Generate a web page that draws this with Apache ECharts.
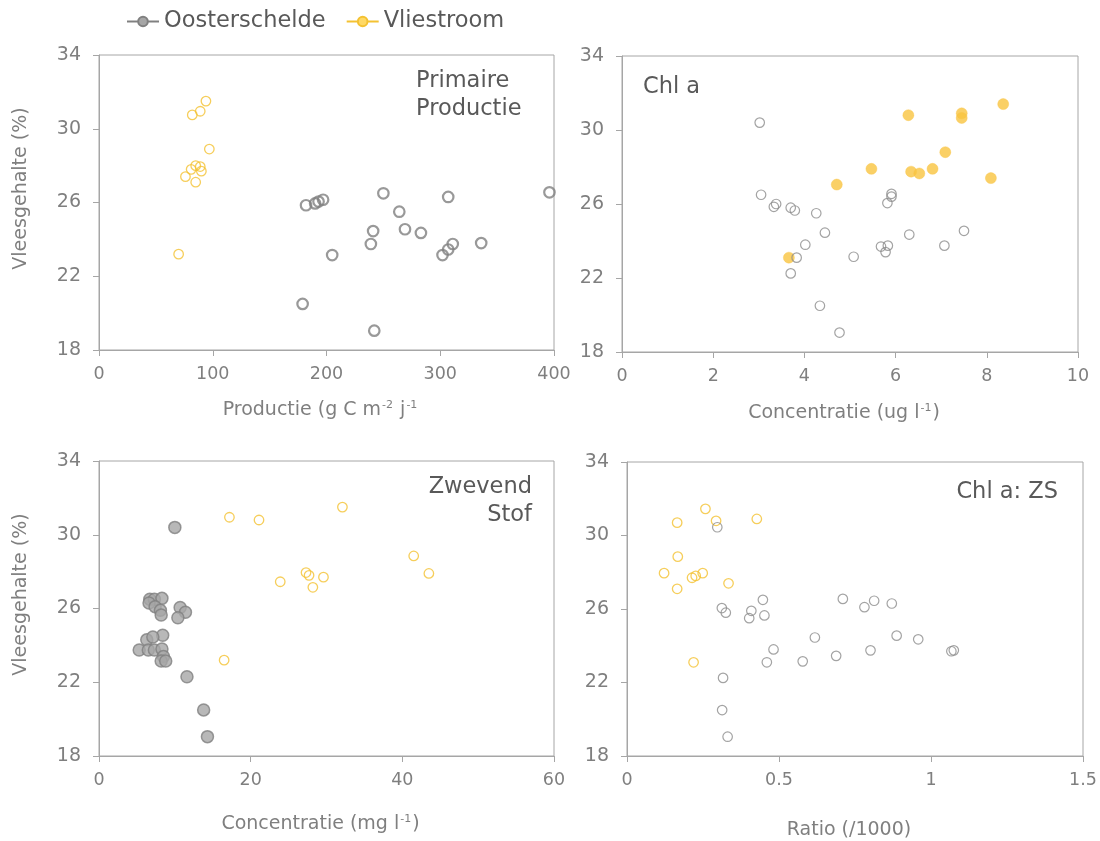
<!DOCTYPE html>
<html>
<head>
<meta charset="utf-8">
<script src="https://cdn.jsdelivr.net/npm/echarts@6/dist/echarts.min.js"></script>
<style>
  html, body { margin: 0; padding: 0; background: #fff; }
  #chart { width: 1100px; height: 841px; }
</style>
</head>
<body>
<div id="chart"></div>
<script>
// Vleesgehalte (%) tegen vier verklarende grootheden
const seriesNames = ["Oosterschelde", "Vliestroom"];
const yTicks = [18, 22, 26, 30, 34];

// Primaire productie [g C m-2 j-1, vleesgehalte]
const prodOost = [[182,25.85],[190,25.95],[193,26.05],[197,26.15],[250,26.5],[307,26.3],[396,26.55],[264,25.5],[241,24.45],[269,24.55],[283,24.35],[239,23.75],[311,23.75],[307,23.45],[302,23.15],[336,23.8],[205,23.15],[179,20.5],[242,19.05]];
const prodVlie = [[94,31.5],[82,30.75],[89,30.95],[97,28.9],[85,28.0],[89,27.95],[81,27.8],[90,27.7],[76,27.4],[85,27.1],[70,23.2]];

// Chl a [ug l-1, vleesgehalte]
const chlOost = [[3.02,30.4],[3.05,26.5],[3.33,25.85],[3.38,26.0],[3.70,25.8],[3.79,25.65],[4.26,25.5],[5.91,26.55],[5.91,26.4],[5.82,26.05],[4.45,24.45],[6.30,24.35],[7.50,24.55],[4.02,23.8],[5.68,23.7],[5.83,23.75],[5.78,23.4],[7.07,23.75],[3.83,23.1],[5.08,23.15],[3.70,22.25],[4.34,20.5],[4.77,19.05]];
const chlVlie = [[6.28,30.8],[7.45,30.9],[7.45,30.65],[8.36,31.4],[7.09,28.8],[5.47,27.9],[6.81,27.9],[6.34,27.75],[6.52,27.65],[4.71,27.05],[8.09,27.4],[3.66,23.1]];

// Zwevend stof [mg l-1, vleesgehalte]
const zsOost = [[10.0,30.4],[6.7,26.5],[7.3,26.5],[8.3,26.55],[6.6,26.3],[7.4,26.1],[8.1,25.9],[8.2,25.65],[10.7,26.05],[11.4,25.8],[10.4,25.5],[8.4,24.55],[6.3,24.3],[7.1,24.45],[5.3,23.75],[6.5,23.75],[7.3,23.75],[8.3,23.8],[8.5,23.4],[8.2,23.15],[8.8,23.15],[11.6,22.3],[13.8,20.5],[14.3,19.05]];
const zsVlie = [[17.2,30.95],[21.1,30.8],[32.1,31.5],[41.5,28.85],[43.5,27.9],[27.3,27.95],[27.7,27.8],[29.6,27.7],[23.9,27.45],[28.2,27.15],[16.5,23.2]];

// Chl a : ZS ratio [/1000, vleesgehalte]
const ratioOost = [[0.297,30.45],[0.710,26.55],[0.813,26.45],[0.871,26.3],[0.781,26.1],[0.447,26.5],[0.312,26.05],[0.325,25.8],[0.409,25.9],[0.402,25.5],[0.452,25.65],[0.618,24.45],[0.887,24.55],[0.958,24.35],[0.482,23.8],[0.801,23.75],[1.067,23.7],[1.075,23.75],[0.688,23.45],[0.578,23.15],[0.460,23.1],[0.316,22.25],[0.313,20.5],[0.331,19.05]];
const ratioVlie = [[0.258,31.45],[0.165,30.7],[0.293,30.8],[0.427,30.9],[0.167,28.85],[0.122,27.95],[0.249,27.95],[0.226,27.8],[0.214,27.7],[0.334,27.4],[0.165,27.1],[0.219,23.1]];

// x-as bereik per paneel [min, max, interval]
const xRanges = [[0, 400, 100], [0, 10, 2], [0, 60, 20], [0, 1.5, 0.5]];

const FONT = "DejaVu Sans, Verdana, sans-serif";
const GREY = "#808080";
const YELLOW = "#F4C232";
const AXIS = "#A6A6A6";
const LABEL = "#7F7F7F";

const chart = echarts.init(document.getElementById("chart"));

const grids = [
  { left: 99, top: 55, width: 455, height: 295 },
  { left: 622, top: 56, width: 456, height: 296 },
  { left: 99, top: 461, width: 455, height: 295 },
  { left: 627, top: 462, width: 456, height: 295 }
].map(g => Object.assign(g, { show: true, borderColor: AXIS, borderWidth: 1, containLabel: false }));

const rich = {
  a: { fontFamily: FONT, fontSize: 19, color: LABEL },
  s: { fontFamily: FONT, fontSize: 11, color: LABEL, verticalAlign: "top", padding: [0, 1, 10, 1] }
};

const xNames = [
  "{a|Productie (g C m}{s|-2}{a| j}{s|-1}",
  "{a|Concentratie (ug l}{s|-1}{a|)}",
  "{a|Concentratie (mg l}{s|-1}{a|)}",
  "{a|Ratio (/1000)}"
];
const xGaps = [50, 51, 58, 65];

const xAxes = xRanges.map((r, i) => ({
  gridIndex: i,
  type: "value",
  min: r[0], max: r[1], interval: r[2],
  name: xNames[i],
  nameLocation: "middle",
  nameGap: xGaps[i],
  nameTextStyle: { rich: rich, padding: [0, 12, 0, 0] },
  axisLine: { show: true, lineStyle: { color: AXIS } },
  axisTick: { show: true, length: 6, lineStyle: { color: AXIS } },
  axisLabel: { fontFamily: FONT, fontSize: 17.5, color: LABEL, margin: 15 },
  splitLine: { show: false }
}));

const yAxes = [0, 1, 2, 3].map(i => ({
  gridIndex: i,
  type: "value",
  min: yTicks[0], max: yTicks[yTicks.length - 1], interval: 4,
  name: i % 2 === 0 ? "Vleesgehalte (%)" : "",
  nameLocation: "middle",
  nameGap: 68,
  nameTextStyle: { fontFamily: FONT, fontSize: 19, color: LABEL, padding: [0, 0, 0, 28] },
  axisLine: { show: true, lineStyle: { color: AXIS } },
  axisTick: { show: true, length: 6, lineStyle: { color: AXIS } },
  axisLabel: { fontFamily: FONT, fontSize: 19, color: LABEL, margin: 18 },
  splitLine: { show: false }
}));

function scatter(name, data, idx, size, style) {
  return {
    name: name,
    type: "scatter",
    xAxisIndex: idx,
    yAxisIndex: idx,
    data: data,
    symbol: "circle",
    symbolSize: size,
    itemStyle: style,
    emphasis: { disabled: true },
    z: 3
  };
}

const openGrey = { color: "rgba(255,255,255,0)", borderColor: "#8C8C8C", borderWidth: 1.2 };
const openYellow = { color: "rgba(255,255,255,0)", borderColor: YELLOW, borderWidth: 1.3 };

const series = [
  // legendavoorbeelden (lijn met cirkel)
  { name: seriesNames[0], type: "line", data: [], symbol: "circle", symbolSize: 11,
    lineStyle: { color: GREY, width: 2 }, itemStyle: { color: "#A6A6A6", borderColor: GREY, borderWidth: 1 } },
  { name: seriesNames[1], type: "line", data: [], symbol: "circle", symbolSize: 11,
    lineStyle: { color: YELLOW, width: 2 }, itemStyle: { color: "#FFD966", borderColor: YELLOW, borderWidth: 1 } },

  scatter(seriesNames[1], prodVlie, 0, 9.5, openYellow),
  scatter(seriesNames[0], prodOost, 0, 10.5, { color: "rgba(255,255,255,0)", borderColor: "#7F7F7F", borderWidth: 2.2 }),

  scatter(seriesNames[1], chlVlie, 1, 11, { color: "#F9C440", borderColor: "#F9C440", borderWidth: 0.5 }),
  scatter(seriesNames[0], chlOost, 1, 9.5, openGrey),

  scatter(seriesNames[1], zsVlie, 2, 9.5, openYellow),
  scatter(seriesNames[0], zsOost, 2, 12, { color: "#A6A6A6", borderColor: "#7F7F7F", borderWidth: 1.5 }),

  scatter(seriesNames[1], ratioVlie, 3, 9.5, openYellow),
  scatter(seriesNames[0], ratioOost, 3, 9.5, openGrey)
];

const noteStyle = { fontFamily: FONT, fontSize: 22.5, fill: "#595959" };
function note(text, pos) {
  return { type: "text", left: pos.left, right: pos.right, top: pos.top, style: Object.assign({ text: text }, noteStyle) };
}

chart.setOption({
  animation: false,
  backgroundColor: "#fff",
  legend: {
    data: seriesNames,
    left: 121, top: 5,
    itemWidth: 32, itemHeight: 12, itemGap: 20,
    textStyle: { fontFamily: FONT, fontSize: 22.5, color: "#595959" },
    selectedMode: false
  },
  grid: grids,
  xAxis: xAxes,
  yAxis: yAxes,
  series: series,
  graphic: [
    note("Primaire", { left: 416, top: 70 }),
    note("Productie", { left: 416, top: 98 }),
    note("Chl a", { left: 643, top: 76 }),
    note("Zwevend", { right: 1100 - 532, top: 476 }),
    note("Stof", { right: 1100 - 532, top: 504 }),
    note("Chl a: ZS", { right: 1100 - 1058, top: 481 })
  ]
});
</script>
</body>
</html>
